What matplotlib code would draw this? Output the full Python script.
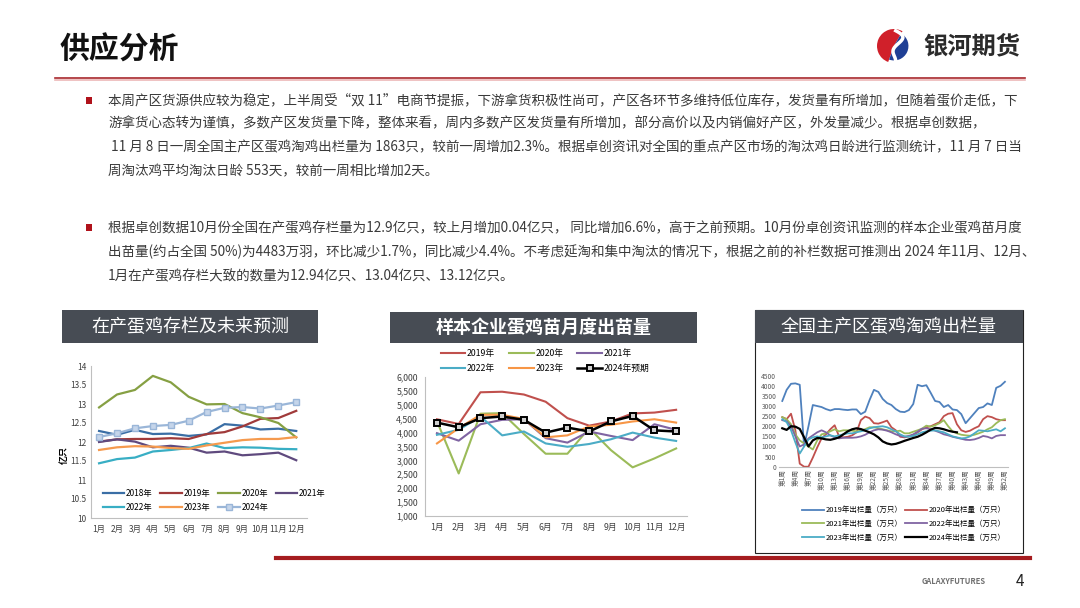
import numpy as np
import matplotlib
matplotlib.use('Agg')
import matplotlib.pyplot as plt
from matplotlib.patches import Rectangle, Wedge
from matplotlib.ticker import FuncFormatter

plt.rcParams['font.family'] = ['Noto Sans CJK SC', 'DejaVu Sans']

W, H = 1080, 608

# ---- chart 1: 在产蛋鸡存栏 (亿只) ----
months = ['1月', '2月', '3月', '4月', '5月', '6月', '7月', '8月', '9月', '10月', '11月', '12月']
stock_2018 = [12.29, 12.19, 12.32, 12.21, 12.22, 12.16, 12.20, 12.47, 12.43, 12.33, 12.35, 12.29]
stock_2019 = [12.01, 12.07, 12.08, 12.08, 12.10, 12.08, 12.21, 12.26, 12.41, 12.61, 12.63, 12.82]
stock_2020 = [12.91, 13.25, 13.37, 13.74, 13.57, 13.19, 12.99, 13.00, 12.76, 12.65, 12.50, 12.12]
stock_2021 = [12.00, 12.07, 12.01, 11.86, 11.90, 11.85, 11.72, 11.75, 11.65, 11.68, 11.72, 11.52]
stock_2022 = [11.44, 11.55, 11.59, 11.75, 11.79, 11.84, 11.96, 11.84, 11.86, 11.85, 11.82, 11.81]
stock_2023 = [11.79, 11.86, 11.89, 11.88, 11.84, 11.82, 11.91, 11.98, 12.05, 12.08, 12.08, 12.13]
stock_2024 = [12.13, 12.23, 12.36, 12.42, 12.45, 12.56, 12.79, 12.90, 12.92, 12.88, 12.96, 13.05]

# ---- chart 2: 样本企业蛋鸡苗月度出苗量 ----
chick_2019 = [4480, 4310, 5450, 5470, 5370, 5110, 4520, 4250, 4400, 4690, 4720, 4820]
chick_2020 = [4410, 2530, 4680, 4700, 3950, 3240, 3240, 4160, 3370, 2750, 3070, 3430]
chick_2021 = [3980, 3710, 4300, 4460, 4480, 3800, 3640, 4040, 3880, 3730, 4300, 4100]
chick_2022 = [3920, 4100, 4580, 3900, 4040, 3610, 3490, 3590, 3760, 4000, 3820, 3700]
chick_2023 = [3610, 4160, 4640, 4640, 4490, 3830, 3900, 4220, 4280, 4400, 4480, 4360]
chick_2024 = [4360, 4190, 4520, 4580, 4460, 4000, 4180, 4040, 4400, 4600, 4080, 4040]

# ---- chart 3: 全国主产区蛋鸡淘鸡出栏量 (万只, 周度) ----
cull_2019 = [3250, 3800, 4100, 4120, 4050, 1000, 2000, 3050, 3000, 2950, 2850, 2780, 2850,
             2850, 2820, 2800, 2830, 2830, 2600, 2720, 3300, 3800, 3700, 3350, 3150, 3050,
             2850, 2720, 2700, 2800, 3100, 4050, 3980, 4030, 3650, 3250, 3200, 2950, 3050,
             2830, 2800, 2600, 2150, 2400, 2650, 2900, 2950, 3130, 3050, 3900, 4000, 4200]
cull_2020 = [2450, 2350, 2620, 1800, 150, 0, 0, 450, 950, 1400, 1600, 1850, 2050,
             1500, 1450, 1480, 1550, 1700, 2300, 2480, 2400, 2150, 2130, 2200, 2280, 1950,
             1800, 1480, 1450, 1500, 1560, 1700, 1850, 1950, 2000, 2100, 2200, 2500, 2620,
             2650, 2100, 1800, 1720, 1780, 1900, 2000, 2350, 2500, 2450, 2350, 2300, 2300]
cull_2021 = [2450, 2350, 2100, 1600, 1300, 1150, 1000, 850, 1300, 1600, 1650, 1750, 1850,
             1750, 1800, 1800, 1780, 1750, 1780, 1860, 1950, 1950, 1900, 1850, 1800, 1750,
             1750, 1780, 1650, 1650, 1730, 1800, 1880, 2030, 1980, 2050, 2150, 2300, 2000,
             1750, 1650, 1580, 1550, 1530, 1580, 1650, 1730, 1850, 1950, 2150, 2300, 2350]
cull_2022 = [2300, 2250, 2000, 1500, 1000, 1100, 1400, 1550, 1700, 1800, 1700, 1550, 1450,
             1400, 1430, 1430, 1430, 1450, 1500, 1580, 1700, 1800, 1850, 1830, 1780, 1700,
             1600, 1520, 1480, 1520, 1600, 1730, 1880, 1900, 1850, 1780, 1700, 1600, 1550,
             1480, 1430, 1380, 1330, 1320, 1350, 1420, 1520, 1480, 1400, 1520, 1560, 1560]
cull_2023 = [2350, 2200, 1800, 1200, 650, 1000, 1350, 1450, 1500, 1450, 1500, 1550, 1500,
             1550, 1600, 1650, 1650, 1700, 1750, 1800, 1900, 1950, 1980, 2000, 1950, 1850,
             1750, 1600, 1500, 1480, 1520, 1600, 1700, 1750, 1780, 1800, 1750, 1700, 1600,
             1500, 1450, 1400, 1420, 1500, 1650, 1800, 1780, 1750, 1800, 1850, 1750, 1900]
cull_2024 = [1900, 1820, 2000, 1980, 1870, 1450, 1000, 1300, 1420, 1400, 1350, 1330, 1380,
             1450, 1600, 1750, 1850, 1900, 1860, 1780, 1700, 1600, 1450, 1250, 1150, 1100,
             1130, 1200, 1280, 1350, 1420, 1480, 1580, 1700, 1830, 1920, 1900, 1850, 1780,
             1730, 1700]
week_ticks = list(range(1, 53, 3))

TEXT1 = [
    '本周产区货源供应较为稳定，上半周受“双 11”电商节提振，下游拿货积极性尚可，产区各环节多维持低位库存，发货量有所增加，但随着蛋价走低，下',
    '游拿货心态转为谨慎，多数产区发货量下降，整体来看，周内多数产区发货量有所增加，部分高价以及内销偏好产区，外发量减少。根据卓创数据，',
    ' 11 月 8 日一周全国主产区蛋鸡淘鸡出栏量为 1863只，较前一周增加2.3%。根据卓创资讯对全国的重点产区市场的淘汰鸡日龄进行监测统计，11 月 7 日当',
    '周淘汰鸡平均淘汰日龄 553天，较前一周相比增加2天。',
]
TEXT2 = [
    '根据卓创数据10月份全国在产蛋鸡存栏量为12.9亿只，较上月增加0.04亿只， 同比增加6.6%，高于之前预期。10月份卓创资讯监测的样本企业蛋鸡苗月度',
    '出苗量(约占全国 50%)为4483万羽，环比减少1.7%，同比减少4.4%。不考虑延淘和集中淘汰的情况下，根据之前的补栏数据可推测出 2024 年11月、12月、',
    '1月在产蛋鸡存栏大致的数量为12.94亿只、13.04亿只、13.12亿只。',
]


def box(l, t, r, b):
    # pixel box -> figure fraction rect
    return [l / W, 1 - b / H, (r - l) / W, (b - t) / H]


def ftext(x, y, s, **kw):
    fig.text(x / W, 1 - y / H, s, **kw)


def title_box(l, t, r, b, s, bold=False):
    fig.patches.append(Rectangle((l / W, 1 - b / H), (r - l) / W, (b - t) / H,
                                 transform=fig.transFigure, facecolor='#474c54',
                                 edgecolor='none', zorder=1))
    ftext((l + r) / 2, (t + b) / 2, s, ha='center', va='center', color='white',
          fontsize=13, fontweight='bold' if bold else 'normal', zorder=2)


fig = plt.figure(figsize=(W / 100, H / 100), dpi=100)
fig.patch.set_facecolor('white')

# header
ftext(60, 50, '供应分析', fontsize=21.5, fontweight='bold', va='center', color='#111111')
ftext(923, 46, '银河期货', fontsize=17.5, fontweight='bold', va='center', color='#2b2b2b')
fig.add_artist(plt.Line2D([55 / W, 1025 / W], [1 - 78 / H, 1 - 78 / H], color='#a8282c', lw=1.2))
fig.add_artist(plt.Line2D([55 / W, 1025 / W], [1 - 80 / H, 1 - 80 / H], color='#ecb8b8', lw=1.2))

# logo
axl = fig.add_axes(box(877, 29, 911, 63))
axl.set_xlim(-1, 1)
axl.set_ylim(-1, 1)
axl.set_aspect('equal')
axl.axis('off')
axl.add_patch(Wedge((0, 0), 1, 60, 250, facecolor='#d0202a'))
axl.add_patch(Wedge((0, 0), 0.85, 250, 420, facecolor='#1f3f95'))
t = np.linspace(0, 1, 50)
axl.plot(0.55 * np.sin(2 * np.pi * t) * (1 - t) + 0.1, 0.9 - 1.8 * t, color='white', lw=2.5)

# bullets text
body = dict(fontsize=9.75, color='#3a3a3a', va='center')
for i, line in enumerate(TEXT1):
    ftext(108, 100 + i * 23.7, line, **body)
for i, line in enumerate(TEXT2):
    ftext(108, 228 + i * 24, line, **body)
for yb in (100, 228):
    fig.patches.append(Rectangle((86 / W, 1 - (yb + 3.5) / H), 6 / W, 7 / H,
                                 transform=fig.transFigure, facecolor='#b0121b'))

# ---------------- chart 1 ----------------
title_box(62, 310, 318, 343, '在产蛋鸡存栏及未来预测')
ax1 = fig.add_axes(box(91, 366, 307, 518))
x = np.arange(12)
s1 = [('2018年', stock_2018, '#3a6ea5'), ('2019年', stock_2019, '#a03a3a'),
      ('2020年', stock_2020, '#86a043'), ('2021年', stock_2021, '#5f4a7e'),
      ('2022年', stock_2022, '#38aec4'), ('2023年', stock_2023, '#f59a4e')]
h1 = {}
for name, vals, col in s1:
    h1[name], = ax1.plot(x, vals, color=col, lw=1.6, label=name)
h1['2024年'], = ax1.plot(x, stock_2024, color='#9ab6d8', lw=1.6, marker='s', ms=4.5,
                         mfc='#c5d5ea', mec='#9ab6d8', label='2024年')
ax1.set_xlim(-0.45, 11.6)
ax1.set_ylim(10, 14)
ax1.set_yticks(np.arange(10, 14.01, 0.5))
ax1.yaxis.set_major_formatter(FuncFormatter(lambda v, p: '%g' % v))
ax1.set_xticks(x)
ax1.set_xticklabels(months)
ax1.tick_params(length=0, labelsize=6, colors='#404040', pad=5)
ax1.tick_params(axis='y', pad=3)
for sp in ('top', 'right'):
    ax1.spines[sp].set_visible(False)
for sp in ('left', 'bottom'):
    ax1.spines[sp].set_color('#bfbfbf')
ftext(64, 455, '亿只', rotation=90, fontsize=6.5, fontweight='bold', ha='center', va='center')
order1 = ['2018年', '2022年', '2019年', '2023年', '2020年', '2024年', '2021年']
ax1.legend([h1[k] for k in order1], order1, ncol=4, frameon=False, fontsize=6,
           loc='lower left', bbox_to_anchor=(0.02, -0.01), handlelength=2.6,
           handletextpad=0.2, columnspacing=0.9, labelspacing=0.65)

# ---------------- chart 2 ----------------
title_box(390, 312, 697, 343, '样本企业蛋鸡苗月度出苗量', bold=True)
ax2 = fig.add_axes(box(425, 377, 687, 516))
s2 = [('2019年', chick_2019, '#c0504d'), ('2020年', chick_2020, '#9bbb59'),
      ('2021年', chick_2021, '#8064a2'), ('2022年', chick_2022, '#4bacc6'),
      ('2023年', chick_2023, '#f79646')]
h2 = {}
for name, vals, col in s2:
    h2[name], = ax2.plot(x, vals, color=col, lw=1.5, label=name)
h2['2024年预期'], = ax2.plot(x, chick_2024, color='black', lw=1.8, marker='s', ms=5,
                            mfc='#d0d0d0', mec='black', mew=1.4, label='2024年预期')
ax2.set_xlim(-0.55, 11.5)
ax2.set_ylim(1000, 6000)
ax2.set_yticks(np.arange(1000, 6001, 500))
ax2.yaxis.set_major_formatter(FuncFormatter(lambda v, p: '{:,.0f}'.format(v)))
ax2.set_xticks(x)
ax2.set_xticklabels(months)
ax2.tick_params(length=0, labelsize=6.3, colors='#404040', pad=5)
for sp in ('top', 'right'):
    ax2.spines[sp].set_visible(False)
for sp in ('left', 'bottom'):
    ax2.spines[sp].set_color('#bfbfbf')
order2 = ['2019年', '2022年', '2020年', '2023年', '2021年', '2024年预期']
ax2.legend([h2[k] for k in order2], order2, ncol=3, frameon=False, fontsize=6.3,
           loc='lower left', bbox_to_anchor=(0.03, 0.97), handlelength=2.8,
           handletextpad=0.2, columnspacing=1.6, labelspacing=0.75)

# ---------------- chart 3 ----------------
fig.patches.append(Rectangle((755 / W, 1 - 553 / H), 268 / W, 243 / H,
                             transform=fig.transFigure, facecolor='none',
                             edgecolor='#222222', lw=0.8))
title_box(755, 310, 1023, 343, '全国主产区蛋鸡淘鸡出栏量')
ax3 = fig.add_axes(box(779, 375.7, 1008, 466.7))
weeks = np.arange(1, 53)
s3 = [('2019年出栏量（万只）', cull_2019, '#4f81bd'), ('2020年出栏量（万只）', cull_2020, '#c0504d'),
      ('2021年出栏量（万只）', cull_2021, '#9bbb59'), ('2022年出栏量（万只）', cull_2022, '#8064a2'),
      ('2023年出栏量（万只）', cull_2023, '#4bacc6')]
h3 = {}
for name, vals, col in s3:
    h3[name], = ax3.plot(weeks, vals, color=col, lw=1.3, label=name)
h3['2024年出栏量（万只）'], = ax3.plot(weeks[:len(cull_2024)], cull_2024, color='black', lw=1.6,
                                 label='2024年出栏量（万只）')
ax3.set_xlim(0.25, 52.7)
ax3.set_ylim(0, 4500)
ax3.set_yticks(np.arange(0, 4501, 500))
ax3.set_xticks(week_ticks)
ax3.set_xticklabels(['第%d周' % w for w in week_ticks], rotation=90)
ax3.tick_params(length=0, labelsize=4.8, colors='#595959', pad=2)
for sp in ('top', 'right', 'left'):
    ax3.spines[sp].set_visible(False)
ax3.spines['bottom'].set_color('#bfbfbf')
names3 = [n for n, _, _ in s3] + ['2024年出栏量（万只）']
order3 = [names3[i] for i in (0, 2, 4, 1, 3, 5)]
ax3.legend([h3[k] for k in order3], order3, ncol=2, frameon=False, fontsize=5.4,
           loc='upper left', bbox_to_anchor=(0.07, -0.36), handlelength=3.0,
           handletextpad=0.2, columnspacing=0.3, labelspacing=0.75)

# footer
fig.add_artist(plt.Line2D([276 / W, 1030 / W], [1 - 558 / H, 1 - 558 / H], color='#a51c1f', lw=3))
ftext(922, 582, 'GALAXYFUTURES', fontsize=5.5, fontweight='bold', color='#707070', va='center')
ftext(1016, 581, '4', fontsize=11, color='#222222', va='center')

fig.savefig('out.png', dpi=100)
